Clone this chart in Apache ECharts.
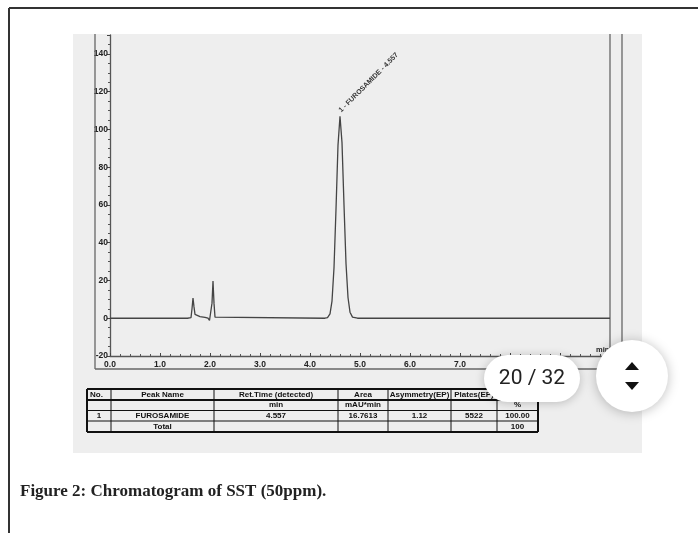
<!DOCTYPE html>
<html>
<head>
<meta charset="utf-8">
<title>Chromatogram of SST (50ppm)</title>
<script src="https://cdn.jsdelivr.net/npm/echarts@6/dist/echarts.min.js"></script>
<style>
  html, body { margin: 0; padding: 0; background: #fff; }
  #chart { width: 698px; height: 533px; }
</style>
</head>
<body>
<div id="chart"></div>
<script>
// retention time (min) / signal (mAU)
const timeMin = [0, 1.55, 1.62, 1.64, 1.66, 1.68, 1.70, 1.74, 1.80, 1.90, 1.96, 1.99, 2.02, 2.04, 2.06, 2.08, 2.10, 2.14,
                 4.30, 4.35, 4.40, 4.44, 4.48, 4.52, 4.56, 4.60, 4.64, 4.68, 4.72, 4.76, 4.80, 4.85, 4.95, 10.0];
const signal  = [0, 0, 0.3, 5, 10.7, 6, 2, 1.4, 0.9, 0.4, 0.1, -1.2, -0.4, 8, 19.7, 8, 0.6, 0,
                 0, 0.3, 2.3, 9.1, 26.7, 57.7, 91.7, 107, 93, 60, 29, 11, 3.2, 0.6, 0, 0];
const peakLabel = '1 - FUROSAMIDE - 4.557';
const peakIdx = 25;   // apex of main peak

// axis ranges / tick labels
const xTicks = ['0.0', '1.0', '2.0', '3.0', '4.0', '5.0', '6.0', '7.0', '8.0', '9.0', '10.0'];
const yRange = [-20, 150];

// peak table under the trace
const tableHead  = ['No.', 'Peak Name', 'Ret.Time (detected)', 'Area', 'Asymmetry(EP)', 'Plates(EP)', 'Rel.Area'];
const tableUnits = ['', '', 'min', 'mAU*min', '', '', '%'];
const tablePeak  = ['1', 'FUROSAMIDE', '4.557', '16.7613', '1.12', '5522', '100.00'];
const tableTotal = ['', 'Total', '', '', '', '', '100'];

const pageNow = 20, pageTotal = 32;
const caption = 'Figure 2: Chromatogram of SST (50ppm).';

const myChart = echarts.init(document.getElementById('chart'));

// ---- decoration: page frame, photo, plot frame, table, viewer overlay ----
const graphic = [];
const line = (x1, y1, x2, y2, w, c, z) => graphic.push({
  type: 'line', z: z || 1, shape: { x1, y1, x2, y2 }, style: { stroke: c || '#444', lineWidth: w || 1 }
});

// page border
line(9, 8, 698, 8, 2, '#333');
line(9, 8, 9, 533, 2, '#333');
// photo background
graphic.push({ type: 'rect', z: -10, shape: { x: 73, y: 34, width: 569, height: 419 }, style: { fill: '#eeeeee' } });
// chromatogram frame
line(95, 34, 95, 369, 1.3, '#666');
line(95, 369, 622, 369, 1.3, '#666');
line(622, 34, 622, 369, 1.3, '#666');
line(610, 34, 610, 356, 1.3, '#666');

// table
const colX = [87, 111, 214, 338, 388, 451, 497, 538];
const rowY = [389, 400, 410.5, 421, 432];
[tableHead, tableUnits, tablePeak, tableTotal].forEach((row, r) => {
  row.forEach((txt, c) => {
    if (!txt) return;
    const left = (r === 0 && c === 0);
    graphic.push({
      type: 'text', z: 2,
      x: left ? colX[0] + 3 : (colX[c] + colX[c + 1]) / 2,
      y: (rowY[r] + rowY[r + 1]) / 2,
      style: {
        text: txt, fill: '#111', font: 'bold 8px "Liberation Sans", Arial, sans-serif',
        align: left ? 'left' : 'center', verticalAlign: 'middle'
      }
    });
  });
});
rowY.forEach((y, i) => line(colX[0], y, colX[7], y, (i === 0 || i === 4 || i === 1) ? 2 : 1, '#111', 2));
colX.forEach((x, i) => line(x, rowY[0], x, rowY[4], (i === 0 || i === 7) ? 2 : 1, '#111', 2));

// viewer overlay (page counter + scroll button)
graphic.push({
  type: 'rect', z: 100, shape: { x: 484, y: 355, width: 96, height: 47, r: 23.5 },
  style: { fill: '#fff', shadowBlur: 10, shadowColor: 'rgba(0,0,0,0.22)', shadowOffsetY: 1 }
});
graphic.push({
  type: 'text', z: 101, x: 532, y: 379,
  style: { text: pageNow + ' / ' + pageTotal, fill: '#222', font: '21px Roboto, "Liberation Sans", sans-serif',
           align: 'center', verticalAlign: 'middle' }
});
graphic.push({
  type: 'circle', z: 100, shape: { cx: 632, cy: 376, r: 36 },
  style: { fill: '#fff', shadowBlur: 12, shadowColor: 'rgba(0,0,0,0.25)', shadowOffsetY: 1 }
});
graphic.push({ type: 'polygon', z: 101, shape: { points: [[625, 370], [639, 370], [632, 362]] }, style: { fill: '#111' } });
graphic.push({ type: 'polygon', z: 101, shape: { points: [[625, 382], [639, 382], [632, 390]] }, style: { fill: '#111' } });

// caption
graphic.push({
  type: 'text', z: 2, x: 20, y: 492,
  style: { text: caption, fill: '#222', font: 'bold 17px "Liberation Serif", "DejaVu Serif", serif',
           verticalAlign: 'middle' }
});

const option = {
  animation: false,
  backgroundColor: '#fff',
  grid: { left: 110, right: 88, top: 35, bottom: 177 },
  xAxis: {
    type: 'value', min: 0, max: 10, interval: 1,
    name: 'min', nameLocation: 'end', nameGap: -14,
    nameTextStyle: { fontSize: 7.5, fontWeight: 'bold', color: '#222', verticalAlign: 'bottom', align: 'left', padding: [0, 0, 2, 0] },
    axisLine: { onZero: false, lineStyle: { color: '#555', width: 1.3 } },
    axisTick: { inside: true, length: 3, lineStyle: { color: '#444' } },
    minorTick: { show: true, splitNumber: 5, length: 2, lineStyle: { color: '#555' } },
    axisLabel: { margin: 4, fontSize: 8.5, fontWeight: 'bold', color: '#222', fontFamily: 'Liberation Sans',
                 formatter: v => xTicks[Math.round(v)] },
    splitLine: { show: false }
  },
  yAxis: {
    type: 'value', min: yRange[0], max: yRange[1], interval: 20,
    axisLine: { show: true, onZero: false, lineStyle: { color: '#555', width: 1.3 } },
    axisTick: { length: 3, lineStyle: { color: '#444' } },
    minorTick: { show: true, splitNumber: 4, length: 2, lineStyle: { color: '#555' } },
    axisLabel: { margin: 2, fontSize: 8.5, fontWeight: 'bold', color: '#222', fontFamily: 'Liberation Sans',
                 showMaxLabel: false },
    splitLine: { show: false }
  },
  graphic: graphic,
  series: [
    {
      type: 'line',
      data: timeMin.map((t, i) => [t, signal[i]]),
      showSymbol: false,
      lineStyle: { color: '#444', width: 1.3 },
      z: 3
    },
    {
      type: 'scatter',
      data: [[timeMin[peakIdx], signal[peakIdx]]],
      symbolSize: 0,
      label: {
        show: true, formatter: peakLabel, position: 'top', distance: 5,
        rotate: 45, align: 'left', verticalAlign: 'middle',
        fontSize: 7, fontWeight: 'bold', color: '#000', fontFamily: 'Liberation Sans'
      },
      z: 4
    }
  ]
};
option && myChart.setOption(option);
</script>
</body>
</html>
